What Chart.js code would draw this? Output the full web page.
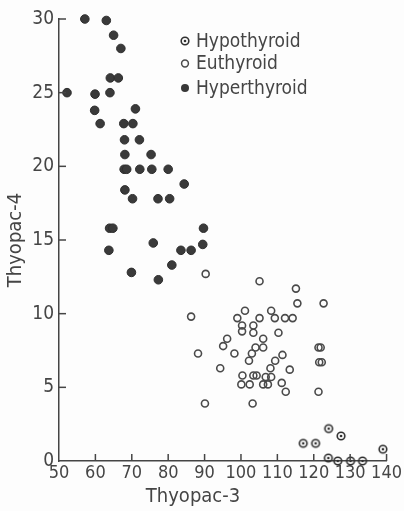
<!DOCTYPE html>
<html>
<head>
<meta charset="utf-8">
<script src="https://cdn.jsdelivr.net/npm/chart.js@4/dist/chart.umd.min.js"></script>
<style>
  body { margin: 0; background: #fdfdfd; }
  #box { width: 404px; height: 511px; }
</style>
</head>
<body>
<div id="box"><canvas id="plot"></canvas></div>
<script>
// values (Thyopac-3 on x, Thyopac-4 on y)
const hypoX = [124.1, 127.5, 117.1, 120.5, 139, 124, 126.6, 130.1, 133.4];
const hypoY = [2.2, 1.7, 1.2, 1.2, 0.8, 0.2, 0, 0, 0];

const euX = [90.3, 105.1, 115.1, 115.5, 122.7, 86.3, 101.1, 99, 108.3, 105.1,
  109.3, 112.1, 114.2, 100.3, 100.3, 103.4, 103.4, 110.3, 96.2, 95.1,
  106.1, 104, 106.1, 88.2, 98.2, 103, 111.4, 102.2, 109.4, 121.3,
  121.9, 121.5, 122.2, 94.3, 108.1, 113.4, 100.4, 103.4, 104.3, 106.8,
  108.3, 100.1, 102.4, 106.1, 107.4, 111.2, 112.3, 121.3, 90.1, 103.2];
const euY = [12.7, 12.2, 11.7, 10.7, 10.7, 9.8, 10.2, 9.7, 10.2, 9.7,
  9.7, 9.7, 9.7, 9.2, 8.8, 9.2, 8.7, 8.7, 8.3, 7.8,
  8.3, 7.7, 7.7, 7.3, 7.3, 7.3, 7.2, 6.8, 6.8, 7.7,
  7.7, 6.7, 6.7, 6.3, 6.3, 6.2, 5.8, 5.8, 5.8, 5.7,
  5.7, 5.2, 5.2, 5.2, 5.2, 5.3, 4.7, 4.7, 3.9, 3.9];

const hyperX = [57.1, 63, 65, 67, 64.1, 66.3, 52.2, 59.9, 64, 59.8,
  71, 61.3, 67.8, 70.3, 68, 72.1, 68.1, 75.3, 67.9, 68.6,
  72.2, 75.5, 80, 84.4, 68.1, 70.2, 77.2, 80.4, 63.9, 64.8,
  89.7, 75.9, 89.5, 63.7, 83.5, 86.3, 81, 69.9, 77.3];
const hyperY = [30, 29.9, 28.9, 28, 26, 26, 25, 24.9, 25, 23.8,
  23.9, 22.9, 22.9, 22.9, 21.8, 21.8, 20.8, 20.8, 19.8, 19.8,
  19.8, 19.8, 19.8, 18.8, 18.4, 17.8, 17.8, 17.8, 15.8, 15.8,
  15.8, 14.8, 14.7, 14.3, 14.3, 14.3, 13.3, 12.8, 12.3];

const groups = ["Hypothyroid", "Euthyroid", "Hyperthyroid"];
const xTitle = "Thyopac-3";
const yTitle = "Thyopac-4";

const INK = "#454545";
const FONT = "'DejaVu Sans Condensed', 'Liberation Sans', sans-serif";

const pts = (xs, ys) => xs.map((x, i) => ({ x: x, y: ys[i] }));

// circle with a dot in the middle, used for hypothyroid
function ringDot() {
  const c = document.createElement("canvas");
  c.width = c.height = 12;
  const g = c.getContext("2d");
  g.strokeStyle = "#303030";
  g.lineWidth = 1.6;
  g.beginPath();
  g.arc(6, 6, 3.8, 0, Math.PI * 2);
  g.stroke();
  g.fillStyle = "#303030";
  g.beginPath();
  g.arc(6, 6, 1.3, 0, Math.PI * 2);
  g.fill();
  return c;
}
const hypoMark = ringDot();

const extras = {
  id: "extras",
  afterDatasetsDraw(chart) {
    const { ctx, scales: { x, y } } = chart;
    ctx.save();
    ctx.strokeStyle = INK;
    ctx.lineWidth = 1.5;

    // tick marks point inward
    x.ticks.forEach((t) => {
      if (t.value === x.min) return;
      const px = x.getPixelForValue(t.value);
      ctx.beginPath();
      ctx.moveTo(px, y.bottom);
      ctx.lineTo(px, y.bottom - 7);
      ctx.stroke();
    });
    y.ticks.forEach((t) => {
      if (t.value === y.min) return;
      const py = y.getPixelForValue(t.value);
      ctx.beginPath();
      ctx.moveTo(x.left, py);
      ctx.lineTo(x.left + 7, py);
      ctx.stroke();
    });

    // legend
    const rows = [41, 63.5, 88];
    ctx.font = "19px " + FONT;
    ctx.fillStyle = INK;
    ctx.textBaseline = "middle";
    groups.forEach((name, i) => {
      const mx = 185, my = rows[i];
      if (i === 0) {
        ctx.drawImage(hypoMark, mx - 6, my - 6);
      } else if (i === 1) {
        ctx.beginPath();
        ctx.arc(mx, my, 3.4, 0, Math.PI * 2);
        ctx.lineWidth = 1.5;
        ctx.strokeStyle = "#4a4a4a";
        ctx.stroke();
      } else {
        ctx.beginPath();
        ctx.arc(mx, my, 4, 0, Math.PI * 2);
        ctx.fillStyle = "#383838";
        ctx.fill();
        ctx.fillStyle = INK;
      }
      ctx.fillText(name, 196, my + 1);
    });

    // x axis title sits left of centre in the scan
    ctx.font = "20px " + FONT;
    ctx.textAlign = "center";
    ctx.fillText(xTitle, 193, 497);
    ctx.restore();
  },
};

new Chart(document.getElementById("plot"), {
  type: "scatter",
  data: {
    datasets: [
      {
        label: groups[0],
        data: pts(hypoX, hypoY),
        pointStyle: hypoMark,
        clip: false,
      },
      {
        label: groups[1],
        data: pts(euX, euY),
        pointRadius: 3.5,
        borderWidth: 1.6,
        borderColor: "#4a4a4a",
        backgroundColor: "rgba(0,0,0,0)",
        clip: false,
      },
      {
        label: groups[2],
        data: pts(hyperX, hyperY),
        pointRadius: 4.3,
        borderWidth: 1,
        borderColor: "#2e2e2e",
        backgroundColor: "#3a3a3a",
        clip: false,
      },
    ],
  },
  options: {
    responsive: true,
    maintainAspectRatio: false,
    animation: false,
    layout: { padding: { top: 19, right: 14, left: 0, bottom: 0 } },
    plugins: {
      legend: { display: false },
      tooltip: { enabled: false },
    },
    scales: {
      x: {
        type: "linear",
        min: 50,
        max: 140,
        ticks: {
          stepSize: 10,
          color: INK,
          padding: 2,
          maxRotation: 0,
          autoSkip: false,
          font: { family: FONT, size: 18 },
        },
        grid: { display: false, drawTicks: false },
        border: { color: INK, width: 1.5 },
        afterFit: (s) => { s.height = 50; },
      },
      y: {
        min: 0,
        max: 30,
        ticks: { stepSize: 5, color: INK, padding: 5, font: { family: FONT, size: 19 } },
        grid: { display: false, drawTicks: false },
        border: { color: INK, width: 1.5 },
        title: {
          display: true,
          text: yTitle,
          color: INK,
          padding: { top: 4, bottom: 0 },
          font: { family: FONT, size: 20 },
        },
        afterFit: (s) => { s.width = 59; },
      },
    },
  },
  plugins: [extras],
});
</script>
</body>
</html>
